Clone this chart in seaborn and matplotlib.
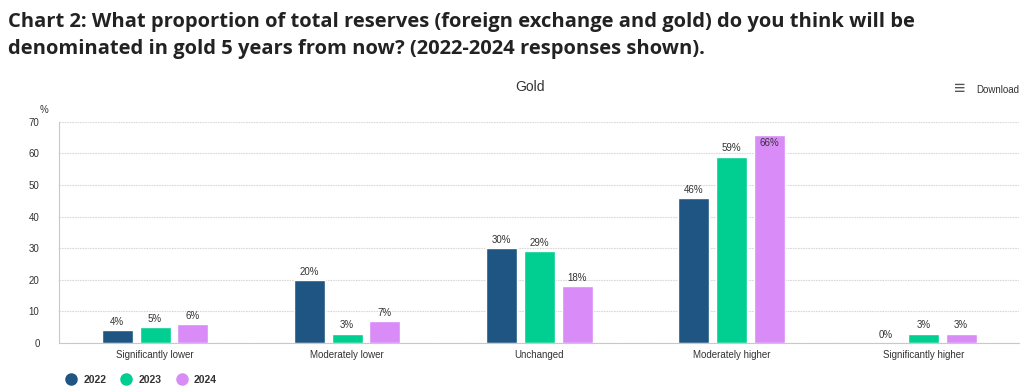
import pandas as pd
import seaborn as sns
import matplotlib.pyplot as plt

categories = ["Significantly lower", "Moderately lower", "Unchanged",
              "Moderately higher", "Significantly higher"]
years = ["2022", "2023", "2024"]
vals_2022 = [4, 20, 30, 46, 0]
vals_2023 = [5, 3, 29, 59, 3]
vals_2024 = [6, 7, 18, 66, 3]
colors = ["#1f5582", "#00cf91", "#d98bf8"]

df = pd.DataFrame({
    "category": categories * 3,
    "year": [y for y in years for _ in categories],
    "value": vals_2022 + vals_2023 + vals_2024,
})

sns.set_style("white")
plt.rcParams["font.family"] = ["Liberation Sans", "DejaVu Sans"]

fig = plt.figure(figsize=(10.24, 3.92), dpi=100)
ax = fig.add_axes([0.0576, 0.125, 0.938, 0.564])

sns.barplot(data=df, x="category", y="value", hue="year", order=categories,
            hue_order=years, palette=colors, width=0.59, gap=0.18,
            saturation=1, legend=False, ax=ax)

ax.set_ylim(0, 70)
ax.set_yticks(range(0, 71, 10))
ax.set_xlabel("")
ax.set_ylabel("")
ax.tick_params(axis="both", labelsize=7, colors="#333333", length=0)
ax.tick_params(axis="y", pad=14)
ax.tick_params(axis="x", pad=5)
ax.grid(axis="y", color="#d9d9d9", linestyle=(0, (1.5, 0.8)), linewidth=0.8)
ax.set_axisbelow(True)
for s in ["top", "right"]:
    ax.spines[s].set_visible(False)
ax.spines["left"].set_color("#c8c8c8")
ax.spines["bottom"].set_color("#c8c8c8")

# value labels
for cont in ax.containers:
    for bar in cont:
        h = bar.get_height()
        x = bar.get_x() + bar.get_width() / 2
        if h > 63:
            ax.text(x, h - 1.2, f"{h:.0f}%", ha="center", va="top",
                    fontsize=7, color="#333333")
        else:
            ax.text(x, h + 1.0, f"{h:.0f}%", ha="center", va="bottom",
                    fontsize=7, color="#333333")

fig.text(0.039, 0.712, "%", fontsize=7, color="#333333")

# titles
title_font = ["Open Sans", "DejaVu Sans"]
fig.text(0.008, 0.932, "Chart 2: What proportion of total reserves (foreign exchange and gold) do you think will be",
         fontsize=14.5, fontweight="bold", color="#222222", family=title_font)
fig.text(0.008, 0.861, "denominated in gold 5 years from now? (2022-2024 responses shown).",
         fontsize=14.5, fontweight="bold", color="#222222", family=title_font)
fig.text(0.518, 0.778, "Gold", fontsize=10, color="#333333", ha="center", va="center")
fig.text(0.995, 0.770, "Download", fontsize=7, color="#333333", va="center", ha="right")
fig.text(0.932, 0.772, "\u2261", fontsize=14, color="#555555", va="center", fontweight="bold")

# legend
handles = [plt.Line2D([], [], marker="o", linestyle="", markersize=8,
                      color=c) for c in colors]
leg = fig.legend(handles, years, loc="lower left", bbox_to_anchor=(0.050, -0.005),
                 ncol=3, frameon=False, fontsize=7.5, handletextpad=0.2,
                 columnspacing=0.9)
for t in leg.get_texts():
    t.set_fontweight("bold")
    t.set_color("#333333")

fig.savefig("out.png", dpi=100)
